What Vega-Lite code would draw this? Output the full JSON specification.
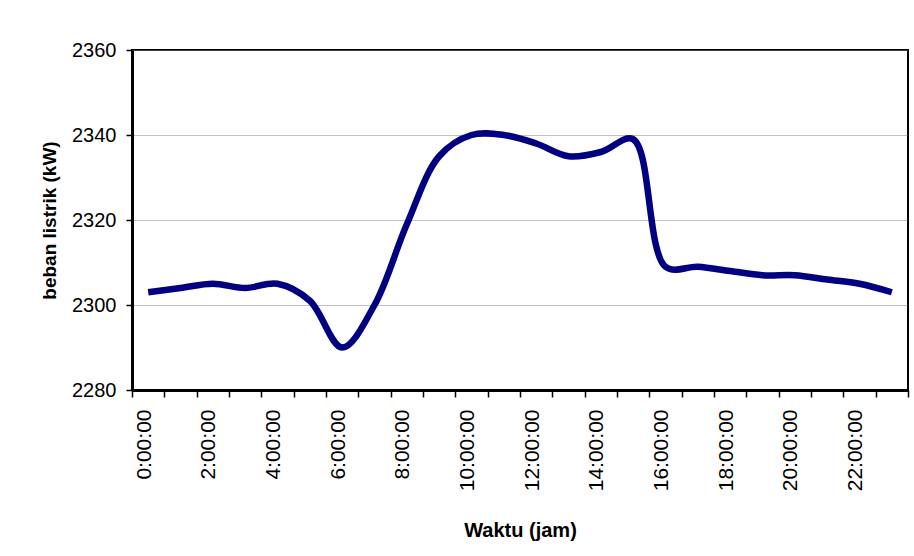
{
  "$schema": "https://vega.github.io/schema/vega-lite/v6.json",
  "autosize": {"type": "none"},
  "width": 776,
  "height": 340,
  "padding": {"left": 132, "top": 50, "right": 6, "bottom": 166},
  "background": "white",
  "config": {
    "font": "Liberation Sans",
    "view": {"stroke": "black", "strokeWidth": 2}
  },
  "data": {
    "values": [
      {"jam": "0:00:00", "beban": 2303},
      {"jam": "1:00:00", "beban": 2304},
      {"jam": "2:00:00", "beban": 2305},
      {"jam": "3:00:00", "beban": 2304},
      {"jam": "4:00:00", "beban": 2305},
      {"jam": "5:00:00", "beban": 2301},
      {"jam": "6:00:00", "beban": 2290},
      {"jam": "7:00:00", "beban": 2300},
      {"jam": "8:00:00", "beban": 2319},
      {"jam": "9:00:00", "beban": 2335},
      {"jam": "10:00:00", "beban": 2340},
      {"jam": "11:00:00", "beban": 2340},
      {"jam": "12:00:00", "beban": 2338},
      {"jam": "13:00:00", "beban": 2335},
      {"jam": "14:00:00", "beban": 2336},
      {"jam": "15:00:00", "beban": 2339},
      {"jam": "16:00:00", "beban": 2309},
      {"jam": "17:00:00", "beban": 2309},
      {"jam": "18:00:00", "beban": 2308},
      {"jam": "19:00:00", "beban": 2307},
      {"jam": "20:00:00", "beban": 2307},
      {"jam": "21:00:00", "beban": 2306},
      {"jam": "22:00:00", "beban": 2305},
      {"jam": "23:00:00", "beban": 2303}
    ]
  },
  "mark": {"type": "line", "color": "#000080", "strokeWidth": 6.5, "interpolate": "catmull-rom", "strokeCap": "butt"},
  "encoding": {
    "x": {
      "field": "jam",
      "type": "ordinal",
      "sort": null,
      "scale": {"type": "band", "paddingInner": 0, "paddingOuter": 0},
      "axis": {
        "title": "Waktu (jam)",
        "titleFontSize": 20,
        "titleFontWeight": "bold",
        "titleColor": "black",
        "titlePadding": 30,
        "labelAngle": -90,
        "labelAlign": "right",
        "labelBaseline": "middle",
        "labelFontSize": 21,
        "labelColor": "black",
        "labelPadding": 12,
        "labelOffset": -4,
        "labelExpr": "toNumber(split(datum.value, ':')[0]) % 2 == 0 ? datum.value : ''",
        "tickBand": "extent",
        "tickSize": 7,
        "tickColor": "black",
        "tickWidth": 1.5,
        "domainColor": "black",
        "domainWidth": 3,
        "grid": false
      }
    },
    "y": {
      "field": "beban",
      "type": "quantitative",
      "scale": {"domain": [2280, 2360], "nice": false, "zero": false},
      "axis": {
        "title": "beban listrik (kW)",
        "titleFontSize": 19,
        "titleFontWeight": "bold",
        "titleColor": "black",
        "titlePadding": 12,
        "values": [2280, 2300, 2320, 2340, 2360],
        "format": "d",
        "labelFontSize": 20,
        "labelColor": "black",
        "labelPadding": 10,
        "tickSize": 6,
        "tickColor": "black",
        "tickWidth": 1.5,
        "domainColor": "black",
        "domainWidth": 3,
        "grid": true,
        "gridColor": "#808080",
        "gridDash": [1, 1],
        "gridWidth": 1
      }
    }
  }
}
